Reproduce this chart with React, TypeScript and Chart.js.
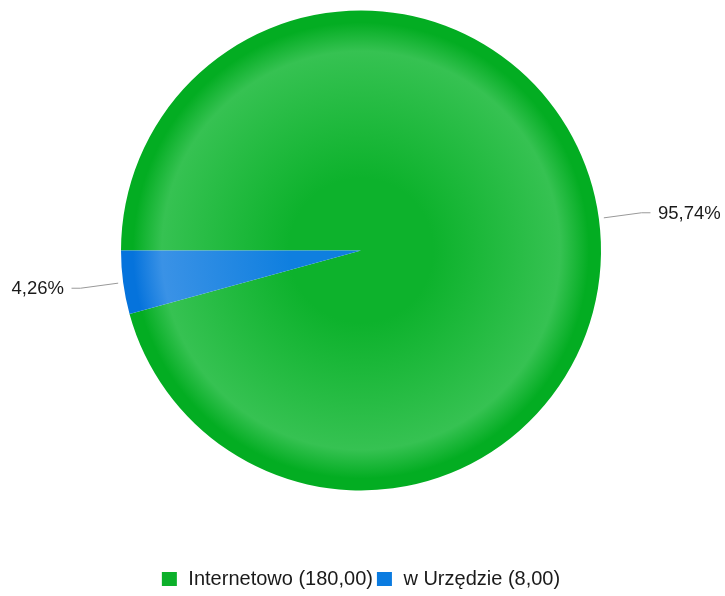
import React, { useEffect, useRef } from "react";
import { Chart, registerables } from "chart.js";

Chart.register(...registerables);

const categories = ["Internetowo", "w Urzędzie"];
const values = [180, 8];
const baseColors = ["#0db22c", "#0f7fdf"];
const lightColors = ["#36c252", "#3a92e6"];
const darkColors = ["#03ad22", "#0573dc"];
const legendColors = ["#0cb02a", "#0a7be0"];

const FONT = '"Liberation Sans", Arial, sans-serif';

function fmt(n: number, d: number) {
  return n.toFixed(d).replace(".", ",");
}

const labelsPlugin = {
  id: "pieLabels",
  afterDraw(chart: any) {
    const ctx = chart.ctx;
    const meta = chart.getDatasetMeta(0);
    const data = chart.data.datasets[0].data as number[];
    const total = data.reduce((a, b) => a + b, 0);
    ctx.save();
    meta.data.forEach((arc: any, i: number) => {
      const { x, y, startAngle, endAngle, outerRadius } = arc.getProps(
        ["x", "y", "startAngle", "endAngle", "outerRadius"],
        true
      );
      const mid = (startAngle + endAngle) / 2;
      const c = Math.cos(mid);
      const s = Math.sin(mid);
      const p1x = x + (outerRadius + 5) * c;
      const p1y = y + (outerRadius + 5) * s;
      const p2x = x + (outerRadius + 43) * c;
      const p2y = y + (outerRadius + 43) * s;
      const dir = c >= 0 ? 1 : -1;
      const p3x = p2x + dir * 9;
      ctx.strokeStyle = "#999999";
      ctx.lineWidth = 1;
      ctx.beginPath();
      ctx.moveTo(p1x, p1y);
      ctx.lineTo(p2x, p2y);
      ctx.lineTo(p3x, p2y);
      ctx.stroke();
      ctx.fillStyle = "#1a1a1a";
      ctx.font = `18.5px ${FONT}`;
      ctx.textBaseline = "middle";
      ctx.textAlign = dir > 0 ? "left" : "right";
      const pct = (data[i] / total) * 100;
      ctx.fillText(fmt(pct, 2) + "%", p3x + dir * 7.5, p2y + 1);
    });
    ctx.restore();
  },
};

const legendPlugin = {
  id: "customLegend",
  afterDraw(chart: any) {
    const ctx = chart.ctx;
    const labels = chart.data.labels as string[];
    const data = chart.data.datasets[0].data as number[];
    ctx.save();
    ctx.font = `20px ${FONT}`;
    const boxW = 15;
    const boxH = 14;
    const gap = 11.5;
    const itemGap = 4;
    const texts = labels.map((l, i) => `${l} (${fmt(data[i], 2)})`);
    const widths = texts.map((t) => boxW + gap + ctx.measureText(t).width);
    const total = widths.reduce((a, b) => a + b, 0) + itemGap * (texts.length - 1);
    const area = chart.chartArea;
    const cx = (area.left + area.right) / 2;
    let xPos = cx - total / 2;
    const yc = 579;
    texts.forEach((t, i) => {
      ctx.fillStyle = legendColors[i];
      ctx.fillRect(xPos, yc - boxH / 2, boxW, boxH);
      ctx.fillStyle = "#1a1a1a";
      ctx.textAlign = "left";
      ctx.textBaseline = "middle";
      ctx.fillText(t, xPos + boxW + gap, yc);
      xPos += widths[i] + itemGap;
    });
    ctx.restore();
  },
};

export default function App() {
  const ref = useRef<HTMLCanvasElement | null>(null);
  useEffect(() => {
    document.body.style.margin = "0";
    const canvas = ref.current;
    if (!canvas) return;
    const bg = (c: any) => {
      const i = c.dataIndex;
      const chart = c.chart;
      const a = chart.chartArea;
      if (!a) return baseColors[i];
      const cx = (a.left + a.right) / 2;
      const cy = (a.top + a.bottom) / 2;
      const r = Math.min(a.right - a.left, a.bottom - a.top) / 2;
      const g = chart.ctx.createRadialGradient(cx, cy, 0, cx, cy, r);
      g.addColorStop(0, baseColors[i]);
      g.addColorStop(0.3, baseColors[i]);
      g.addColorStop(0.83, lightColors[i]);
      g.addColorStop(0.95, darkColors[i]);
      g.addColorStop(1, darkColors[i]);
      return g;
    };
    const chart = new Chart(canvas, {
      type: "pie",
      data: {
        labels: categories,
        datasets: [
          {
            data: values,
            backgroundColor: bg,
            borderWidth: 0,
          },
        ],
      },
      options: {
        responsive: false,
        animation: false,
        rotation: 270,
        layout: { padding: { top: 10, bottom: 105, left: 121, right: 124 } },
        plugins: {
          legend: { display: false },
          tooltip: { enabled: false },
        },
      },
      plugins: [labelsPlugin, legendPlugin],
    });
    return () => chart.destroy();
  }, []);
  return (
    <div style={{ width: 725, height: 596 }}>
      <canvas ref={ref} width={725} height={596} style={{ display: "block" }} />
    </div>
  );
}
